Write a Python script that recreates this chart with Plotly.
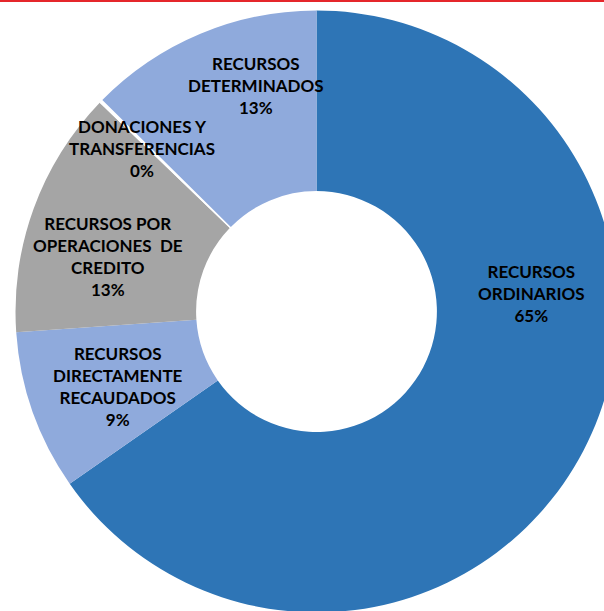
import plotly.graph_objects as go

# datos
categorias = ["RECURSOS<br>ORDINARIOS",
              "RECURSOS<br>DIRECTAMENTE<br>RECAUDADOS",
              "RECURSOS POR<br>OPERACIONES  DE<br>CREDITO",
              "DONACIONES Y<br>TRANSFERENCIAS",
              "RECURSOS<br>DETERMINADOS"]
valores = [65.3, 8.6, 13.3, 0.2, 12.6]
colores = ["#2E75B6", "#8FAADC", "#A5A5A5", "#FFFFFF", "#8FAADC"]

# posiciones de las etiquetas (px desde arriba a la izquierda)
pos_etiquetas = [(531, 293), (118, 386), (108, 256), (142, 149), (256, 86)]

W, H = 620, 622
cx, cy, R = 316.5, 311.5, 301

total = sum(valores)
fig = go.Figure(go.Pie(
    labels=[c.replace("<br>", " ") for c in categorias],
    values=valores,
    hole=0.40,
    sort=False,
    direction="clockwise",
    rotation=0,
    marker=dict(colors=colores, line=dict(width=0)),
    textinfo="none",
    hoverinfo="label+percent",
    showlegend=False,
    domain=dict(x=[(cx - R) / W, (cx + R) / W],
                y=[(H - cy - R) / H, (H - cy + R) / H]),
))

for cat, v, (px_, py_) in zip(categorias, valores, pos_etiquetas):
    pct = round(v / total * 100)
    fig.add_annotation(
        x=px_ / W, y=1 - py_ / H, xref="paper", yref="paper",
        text=f"<b>{cat}<br>{pct}%</b>",
        showarrow=False, align="center",
        xanchor="center", yanchor="middle",
        font=dict(family="Lato", size=17, color="black"),
    )

# línea roja superior
fig.add_shape(type="line", xref="paper", yref="paper",
              x0=0, x1=1, y0=1 - 1 / H, y1=1 - 1 / H,
              line=dict(color="#E5262B", width=2))

fig.update_layout(
    width=W, height=H,
    margin=dict(l=0, r=0, t=0, b=0),
    paper_bgcolor="white",
    plot_bgcolor="white",
)

fig.write_html("out.html", config={"displayModeBar": False},
               post_script="document.body.style.margin='0';document.body.style.overflow='hidden';")
